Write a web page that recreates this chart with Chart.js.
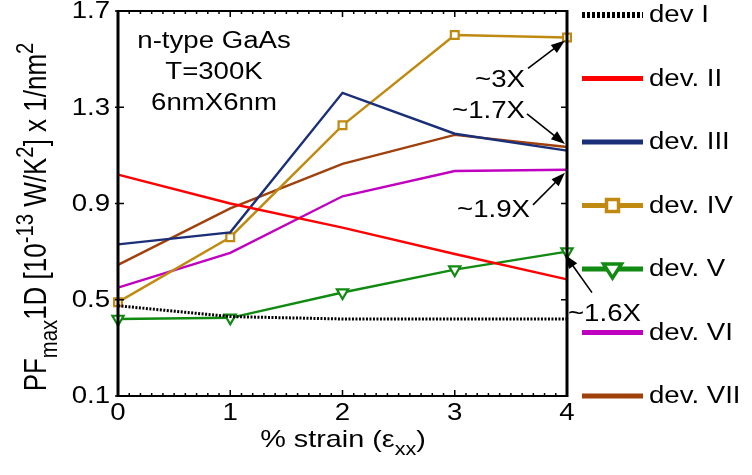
<!DOCTYPE html>
<html>
<head>
<meta charset="utf-8">
<script src="https://cdn.jsdelivr.net/npm/chart.js@4.4.1/dist/chart.umd.min.js"></script>
<style>
  html, body { margin: 0; padding: 0; background: #fff; }
  #wrap { width: 752px; height: 475px; }
</style>
</head>
<body>
<div id="wrap"><canvas id="c" width="752" height="475"></canvas></div>
<script>
// ── data ───────────────────────────────────────────────────────────────────
const strain = [0, 1, 2, 3, 4];
const devI   = [0.475, 0.43, 0.42, 0.42, 0.42];
const devII  = [1.02, 0.90, 0.80, 0.69, 0.585];
const devIII = [0.73, 0.78, 1.36, 1.19, 1.12];
const devIV  = [0.49, 0.76, 1.225, 1.60, 1.59];
const devV   = [0.42, 0.425, 0.53, 0.625, 0.70];
const devVI  = [0.55, 0.695, 0.93, 1.035, 1.04];
const devVII = [0.645, 0.88, 1.065, 1.185, 1.135];

const legendLabels = ["dev I", "dev. II", "dev. III", "dev. IV", "dev. V", "dev. VI", "dev. VII"];
const yTicks = [0.1, 0.5, 0.9, 1.3, 1.7];
const infoLines = ["n-type GaAs", "T=300K", "6nmX6nm"];

// annotations: [label, series, tail dx, tail dy, text dx, text dy] (offsets from arrow head at x=4)
const notes = [
  ["~3X",   devIV,  -37, 28, -40, 40],
  ["~1.7X", devVII, -38, -30, -40, -32],
  ["~1.9X", devVI,  -32, 32, -35, 38],
  ["~1.6X", devV,    27, 38, 3, 60],
];

const COLOURS = {
  I:   "#000000",
  II:  "#ff0000",
  III: "#1b2f78",
  IV:  "#c08a10",
  V:   "#108a10",
  VI:  "#c000c0",
  VII: "#a0400c",
};

const FONT = "Liberation Sans, Arial, Helvetica, sans-serif";
const FS = 23;      // base font size
const SX = 1.2;     // the figure's text is stretched sideways

function series(label, data, colour, extra) {
  return Object.assign({
    label,
    data: strain.map((x, i) => ({ x, y: data[i] })),
    borderColor: colour,
    backgroundColor: colour,
    borderWidth: 2.4,
    pointRadius: 0,
    tension: 0,
    clip: false,
  }, extra || {});
}

// stretched plain text
function text(ctx, s, x, y, align) {
  ctx.save();
  ctx.translate(x, y);
  ctx.scale(SX, 1);
  ctx.font = `${FS}px ${FONT}`;
  ctx.textAlign = align || "center";
  ctx.textBaseline = "middle";
  ctx.fillText(s, 0, 0);
  ctx.restore();
}

// rich text (sub / superscripts), centred on the origin, baseline at 0
function drawRich(ctx, parts, size, small) {
  let w = 0;
  parts.forEach(p => {
    ctx.font = `${p.k ? size * small : size}px ${FONT}`;
    p.w = ctx.measureText(p.t).width;
    w += p.w;
  });
  let x = -w / 2;
  ctx.textAlign = "left";
  ctx.textBaseline = "alphabetic";
  parts.forEach(p => {
    ctx.font = `${p.k ? size * small : size}px ${FONT}`;
    let dy = 0;
    if (p.k === "sub") dy = size * 0.35;
    if (p.k === "sup") dy = -size * 0.42;
    ctx.fillText(p.t, x, dy);
    x += p.w;
  });
}

// ── plugin: frame, inward ticks, tick labels, legend, notes, titles ────────
const decor = {
  id: "decor",
  afterDraw(chart) {
    const { ctx, chartArea: a, scales } = chart;
    const xs = scales.x, ys = scales.y;
    ctx.save();
    ctx.strokeStyle = "#000";
    ctx.fillStyle = "#000";

    // frame
    ctx.lineWidth = 2;
    ctx.beginPath();
    ctx.moveTo(a.left, a.top); ctx.lineTo(a.right, a.top);
    ctx.moveTo(a.left, a.bottom); ctx.lineTo(a.right, a.bottom);
    ctx.stroke();
    ctx.lineWidth = 3;
    ctx.beginPath();
    ctx.moveTo(a.left, a.top - 1); ctx.lineTo(a.left, a.bottom + 1);
    ctx.moveTo(a.right, a.top - 1); ctx.lineTo(a.right, a.bottom + 1);
    ctx.stroke();

    // ticks
    ctx.lineWidth = 1.5;
    ctx.beginPath();
    for (let v = 0; v <= 40; v++) {
      const px = xs.getPixelForValue(v / 10);
      const len = v % 10 === 0 ? 6 : 3;
      ctx.moveTo(px, a.top); ctx.lineTo(px, a.top + len);
      ctx.moveTo(px, a.bottom); ctx.lineTo(px, a.bottom - len);
    }
    yTicks.forEach(v => {
      const py = ys.getPixelForValue(v);
      ctx.moveTo(a.left - 3, py); ctx.lineTo(a.left + 6, py);
      ctx.moveTo(a.right, py); ctx.lineTo(a.right - 6, py);
    });
    ctx.stroke();

    // tick labels
    yTicks.forEach(v => text(ctx, v.toFixed(1), a.left - 8, ys.getPixelForValue(v) + 1, "right"));
    strain.forEach(v => text(ctx, String(v), xs.getPixelForValue(v), a.bottom + 18, "center"));

    // info text
    infoLines.forEach((t, i) => text(ctx, t, 214, 42 + i * 31, "center"));

    // notes with arrows
    notes.forEach(([label, data, tdx, tdy, lx, ly]) => {
      const hx = xs.getPixelForValue(4) - 2;
      const hy = ys.getPixelForValue(data[4]) + (tdy > 0 ? 3 : -3);
      const tx = hx + tdx, ty = hy + tdy;
      const ang = Math.atan2(hy - ty, hx - tx);
      const L = 14, W = 5;
      ctx.lineWidth = 1.6;
      ctx.beginPath();
      ctx.moveTo(tx, ty);
      ctx.lineTo(hx - Math.cos(ang) * L * 0.8, hy - Math.sin(ang) * L * 0.8);
      ctx.stroke();
      ctx.beginPath();
      ctx.moveTo(hx, hy);
      ctx.lineTo(hx - Math.cos(ang) * L - Math.sin(ang) * W, hy - Math.sin(ang) * L + Math.cos(ang) * W);
      ctx.lineTo(hx - Math.cos(ang) * L + Math.sin(ang) * W, hy - Math.sin(ang) * L - Math.cos(ang) * W);
      ctx.closePath();
      ctx.fill();
      text(ctx, label, hx + lx, hy + ly, lx > 0 ? "left" : "right");
    });

    // legend
    chart.data.datasets.forEach((ds, i) => {
      const y = 15 + i * 63.5;
      const x0 = 582, x1 = 643;
      ctx.strokeStyle = ds.borderColor;
      ctx.lineWidth = ds.borderDash && ds.borderDash.length ? 6 : 5;
      ctx.setLineDash(ds.borderDash && ds.borderDash.length ? [3, 2] : []);
      ctx.beginPath(); ctx.moveTo(x0, y); ctx.lineTo(x1, y); ctx.stroke();
      ctx.setLineDash([]);
      const cx = (x0 + x1) / 2;
      if (ds.pointStyle === "rect") {
        ctx.fillStyle = "#fff";
        ctx.lineWidth = 3.5;
        ctx.fillRect(cx - 6, y - 6, 12, 12);
        ctx.strokeRect(cx - 6, y - 6, 12, 12);
      } else if (ds.pointStyle === "triangle") {
        ctx.fillStyle = "#fff";
        ctx.lineWidth = 3.5;
        ctx.beginPath();
        ctx.moveTo(cx - 9, y - 5); ctx.lineTo(cx + 9, y - 5); ctx.lineTo(cx, y + 9);
        ctx.closePath(); ctx.fill(); ctx.stroke();
      }
      ctx.fillStyle = "#000";
      text(ctx, ds.label, 649, y + 1, "left");
    });

    // x axis title
    ctx.save();
    ctx.translate(343, 447);
    ctx.scale(SX, 1);
    drawRich(ctx, [{ t: "% strain (ε" }, { t: "xx", k: "sub" }, { t: ")" }], 24, 0.75);
    ctx.restore();

    // y axis title
    ctx.save();
    ctx.translate(46, 217);
    ctx.rotate(-Math.PI / 2);
    ctx.scale(1, SX);
    drawRich(ctx, [
      { t: "PF" }, { t: "max", k: "sub" }, { t: "1D [10" }, { t: "-13", k: "sup" },
      { t: " W/K" }, { t: "2", k: "sup" }, { t: "] x 1/nm" }, { t: "2", k: "sup" },
    ], 26, 0.78);
    ctx.restore();

    ctx.restore();
  },
};

new Chart(document.getElementById("c"), {
  type: "line",
  data: {
    datasets: [
      series(legendLabels[0], devI, COLOURS.I, { borderWidth: 3, borderDash: [2, 1.5] }),
      series(legendLabels[1], devII, COLOURS.II),
      series(legendLabels[2], devIII, COLOURS.III),
      series(legendLabels[3], devIV, COLOURS.IV, {
        pointStyle: "rect", pointRadius: 5.5, pointBorderWidth: 2.2, pointBackgroundColor: "#fff",
      }),
      series(legendLabels[4], devV, COLOURS.V, {
        pointStyle: "triangle", pointRotation: 180, pointRadius: 6.5, pointBorderWidth: 2.2, pointBackgroundColor: "#fff",
      }),
      series(legendLabels[5], devVI, COLOURS.VI),
      series(legendLabels[6], devVII, COLOURS.VII),
    ],
  },
  options: {
    responsive: false,
    animation: false,
    layout: { padding: { left: 0, right: 185, top: 11, bottom: 0 } },
    plugins: { legend: { display: false }, tooltip: { enabled: false } },
    scales: {
      x: {
        type: "linear", min: 0, max: 4,
        afterFit: (s) => { s.height = 79; },
        afterBuildTicks: (s) => { s.ticks = strain.map(v => ({ value: v })); },
        grid: { display: false, drawTicks: false },
        border: { display: false },
        ticks: { display: false },
      },
      y: {
        type: "linear", min: 0.1, max: 1.7,
        afterFit: (s) => { s.width = 118; },
        afterBuildTicks: (s) => { s.ticks = yTicks.map(v => ({ value: v })); },
        grid: { display: false, drawTicks: false },
        border: { display: false },
        ticks: { display: false },
      },
    },
  },
  plugins: [decor],
});
</script>
</body>
</html>
